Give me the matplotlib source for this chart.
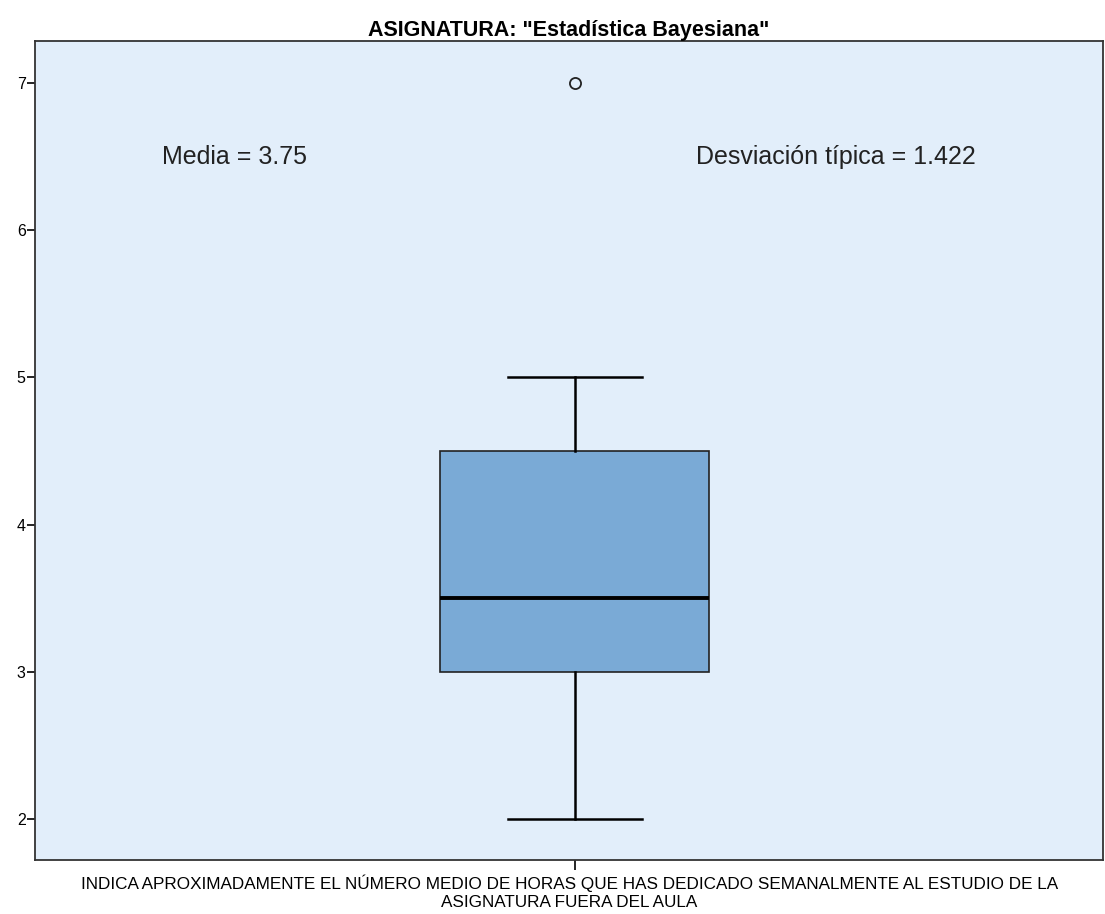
import matplotlib.pyplot as plt

plt.rcParams['font.family'] = ['Liberation Sans', 'DejaVu Sans']

# boxplot summary
med = 3.5
q1 = 3.0
q3 = 4.5
whislo = 2.0
whishi = 5.0
fliers = [7.0]
media = 3.75
desv = 1.422

stats = [{'med': med, 'q1': q1, 'q3': q3, 'whislo': whislo, 'whishi': whishi,
          'fliers': fliers, 'label': ''}]

fig = plt.figure(figsize=(11.05, 9.14), dpi=100)
ax = fig.add_axes([0.032, 0.059, 0.966, 0.896])
ax.set_facecolor('#e2eefa')

ax.bxp(stats, positions=[1], widths=0.504, capwidths=0.251, patch_artist=True,
       boxprops=dict(facecolor='#7aaad6', edgecolor='#222222', linewidth=1.2),
       medianprops=dict(color='black', linewidth=2.8),
       whiskerprops=dict(color='black', linewidth=1.8),
       capprops=dict(color='black', linewidth=1.8),
       flierprops=dict(marker='o', markerfacecolor='none', markeredgecolor='#222222',
                       markersize=8, markeredgewidth=1.3))

ax.set_xlim(-0.011, 1.989)
ax.set_ylim(1.721, 7.285)
ax.set_yticks([2, 3, 4, 5, 6, 7])
ax.set_xticks([1])
ax.set_xticklabels([''])
ax.tick_params(axis='y', labelsize=11.5, length=6, width=1.2, pad=1)
ax.tick_params(axis='x', length=7, width=1.2)
for s in ax.spines.values():
    s.set_linewidth(1.3)
    s.set_color('#333333')

ax.text(0.119, 0.858, 'Media = %.2f' % media, transform=ax.transAxes,
        fontsize=18, ha='left', va='center', color='#222222')
ax.text(0.619, 0.858, 'Desviación típica = %.3f' % desv, transform=ax.transAxes,
        fontsize=18, ha='left', va='center', color='#222222')

ax.set_title('ASIGNATURA: "Estadística Bayesiana"', fontsize=15.5, fontweight='bold', pad=3)
ax.set_xlabel('INDICA APROXIMADAMENTE EL NÚMERO MEDIO DE HORAS QUE HAS DEDICADO SEMANALMENTE AL ESTUDIO DE LA\nASIGNATURA FUERA DEL AULA',
              fontsize=12.3, labelpad=0, linespacing=1.2)

plt.savefig('out.png')
